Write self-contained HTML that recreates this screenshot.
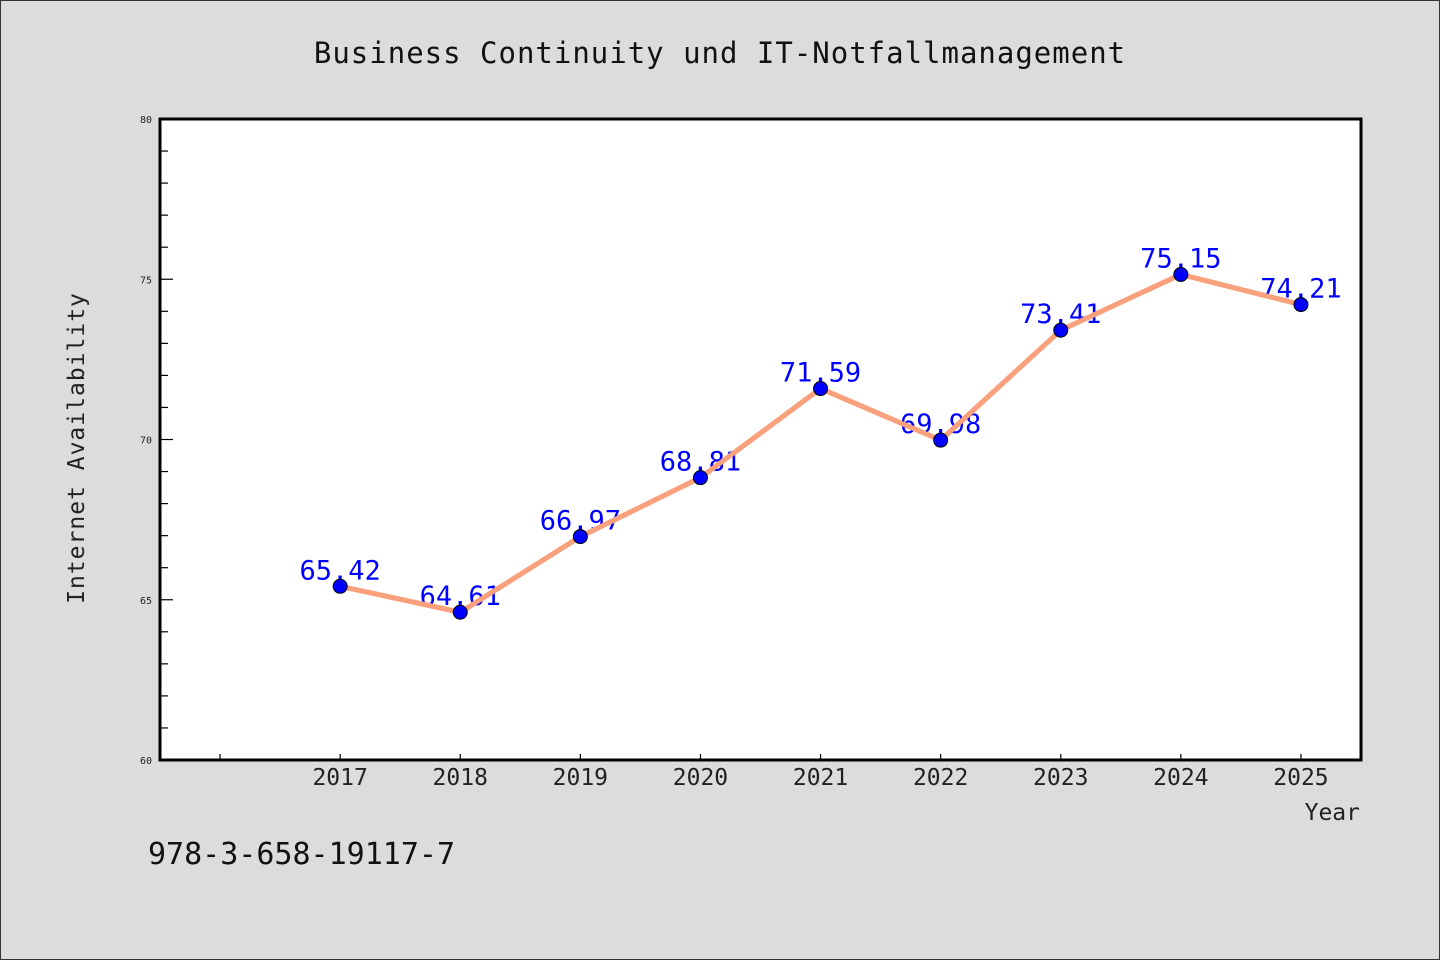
<!DOCTYPE html>
<html><head><meta charset="utf-8"><style>
html,body{margin:0;padding:0;background:#dcdcdc}
svg{display:block}
text{font-family:"WenQuanYi Zen Hei","DejaVu Sans Mono",monospace}
</style></head><body>
<svg id="chart" width="1440" height="960" viewBox="0 0 1440 960" xmlns="http://www.w3.org/2000/svg">
<rect x="0.5" y="0.5" width="1439" height="959" fill="#dcdcdc" stroke="#333" stroke-width="1"/>
<text x="720" y="63" font-size="29" text-anchor="middle" fill="#111" letter-spacing="1">Business Continuity und IT-Notfallmanagement</text>
<rect x="160" y="119" width="1201" height="641" fill="#fff"/>
<g id="axes"></g>
<g id="series"></g>
<rect x="160" y="119" width="1201" height="641" fill="none" stroke="#000" stroke-width="3"/>
<text transform="translate(84,448) rotate(-90)" font-size="23" text-anchor="middle" fill="#222" letter-spacing="1">Internet Availability</text>
<text x="1360" y="820" font-size="23" text-anchor="end" fill="#222">Year</text>
<text x="148" y="864" font-size="30" fill="#111">978-3-658-19117-7</text>
</svg>
<script>
const years = [2017,2018,2019,2020,2021,2022,2023,2024,2025];
const values = [65.42,64.61,66.97,68.81,71.59,69.98,73.41,75.15,74.21];
const yTickLabels = [60,65,70,75,80];
const xMin=2015.5,xMax=2025.5,yMin=60,yMax=80;
const L=160,R=1361,T=119,B=760;
const sx=v=>L+(v-xMin)/(xMax-xMin)*(R-L);
const sy=v=>B-(v-yMin)/(yMax-yMin)*(B-T);
const NS='http://www.w3.org/2000/svg';
function mk(tag,attrs,parent){const e=document.createElementNS(NS,tag);for(const k in attrs)e.setAttribute(k,attrs[k]);parent.appendChild(e);return e;}
const axes=document.getElementById('axes'),series=document.getElementById('series');
for(let v=yMin;v<=yMax;v++){
  const major=yTickLabels.includes(v);
  const t=mk('line',{x1:L,x2:L+(major?13:8),y1:sy(v),y2:sy(v),stroke:'#000','stroke-width':1.2},axes);
  
  
}
yTickLabels.forEach(v=>{
  const t=mk('text',{x:L-8,y:sy(v)+4,'font-size':10,'text-anchor':'end',fill:'#222'},axes);
  t.textContent=v;
  
  
});
for(let y=2016;y<=2025;y++){
  const t=mk('line',{x1:sx(y),x2:sx(y),y1:B,y2:B-6,stroke:'#000','stroke-width':1.2},axes);
  
  
}
years.forEach(y=>{
  const t=mk('text',{x:sx(y),y:B+25,'font-size':23,'text-anchor':'middle',fill:'#222'},axes);
  t.textContent=y;
  
  
});
const pts=years.map((y,i)=>sx(y)+','+sy(values[i])).join(' ');
const line=mk('polyline',{points:pts,fill:'none',stroke:'#f9a07c','stroke-width':5,'stroke-linejoin':'round'},series);


years.forEach((y,i)=>{
  const lb=mk('text',{x:sx(y),y:sy(values[i])-7,'font-size':27,'text-anchor':'middle',fill:'#0000ff'},series);
  lb.textContent=values[i].toFixed(2);
  
  
});
const line2=line.cloneNode();series.appendChild(line2);


years.forEach((y,i)=>{
  const c=mk('circle',{cx:sx(y),cy:sy(values[i]),r:7,fill:'#0000ff',stroke:'#000','stroke-width':1},series);
  
  
});
</script>
</body></html>
